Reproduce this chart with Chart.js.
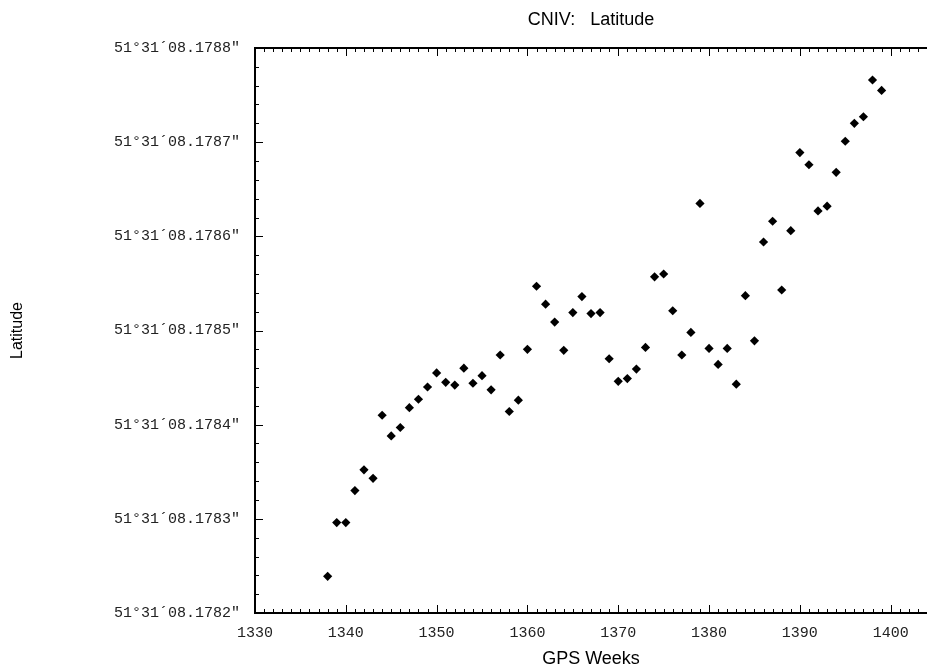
<!DOCTYPE html>
<html>
<head>
<meta charset="utf-8">
<script src="https://cdn.jsdelivr.net/npm/chart.js@4/dist/chart.umd.min.js"></script>
<style>
html,body{margin:0;padding:0;background:#fff;}
#wrap{width:927px;height:668px;}
</style>
</head>
<body>
<div id="wrap"><canvas id="c" width="927" height="668"></canvas></div>
<script>
// GPS week numbers
const weeks = [1338,1339,1340,1341,1342,1343,1344,1345,1346,1347,1348,1349,1350,1351,1352,1353,1354,1355,1356,1357,1358,1359,1360,1361,1362,1363,1364,1365,1366,1367,1368,1369,1370,1371,1372,1373,1374,1375,1376,1377,1378,1379,1380,1381,1382,1383,1384,1385,1386,1387,1388,1389,1390,1391,1392,1393,1394,1395,1396,1397,1398,1399];
// Latitude seconds part (51°31' + seconds)
const latSeconds = [8.178239,8.178296,8.178296,8.178330,8.178352,8.178343,8.178410,8.178388,8.178397,8.178418,8.178427,8.178440,8.178455,8.178445,8.178442,8.178460,8.178444,8.178452,8.178437,8.178474,8.178414,8.178426,8.178480,8.178547,8.178528,8.178509,8.178479,8.178519,8.178536,8.178518,8.178519,8.178470,8.178446,8.178449,8.178459,8.178482,8.178557,8.178560,8.178521,8.178474,8.178498,8.178635,8.178481,8.178464,8.178481,8.178443,8.178537,8.178489,8.178594,8.178616,8.178543,8.178606,8.178689,8.178676,8.178627,8.178632,8.178668,8.178701,8.178720,8.178727,8.178766,8.178755];
const xRange = [1330, 1404];
const yRange = [8.1782, 8.1788];
const titleText = 'CNIV:   Latitude';
const xTitle = 'GPS Weeks';
const yTitle = 'Latitude';

const points = weeks.map((w, i) => ({x: w, y: latSeconds[i]}));

function isMajorY(v) {
  const s = v * 10000;
  return Math.abs(s - Math.round(s)) < 1e-6;
}
function fmtLat(v) {
  const s = v.toFixed(4);
  return '51\u00B031\u00B4' + (v < 10 ? '0' : '') + s + '\u2033';
}

const tickPlugin = {
  id: 'inwardTicks',
  afterDraw(chart) {
    const ctx = chart.ctx;
    const a = chart.chartArea;
    const xs = chart.scales.x, ys = chart.scales.y;
    ctx.save();
    ctx.strokeStyle = '#000';
    ctx.lineWidth = 1;
    ctx.beginPath();
    xs.ticks.forEach(t => {
      const px = Math.round(xs.getPixelForValue(t.value)) + 0.5;
      const len = (t.value % 10 === 0) ? 8 : 4;
      ctx.moveTo(px, a.bottom); ctx.lineTo(px, a.bottom - len);
      ctx.moveTo(px, a.top); ctx.lineTo(px, a.top + len);
    });
    ys.ticks.forEach(t => {
      const py = Math.round(ys.getPixelForValue(t.value)) + 0.5;
      const len = isMajorY(t.value) ? 8 : 4;
      ctx.moveTo(a.left, py); ctx.lineTo(a.left + len, py);
    });
    ctx.stroke();
    ctx.lineWidth = 2;
    ctx.beginPath();
    ctx.moveTo(a.left - 1, a.top);
    ctx.lineTo(a.right, a.top);
    ctx.stroke();
    ctx.restore();
  }
};

new Chart(document.getElementById('c'), {
  type: 'scatter',
  data: {
    datasets: [{
      data: points,
      pointStyle: 'rectRot',
      pointRadius: 4.6,
      pointHoverRadius: 4.6,
      backgroundColor: '#000',
      borderColor: '#000',
      borderWidth: 0
    }]
  },
  options: {
    responsive: false,
    devicePixelRatio: 1,
    animation: false,
    events: [],
    layout: {padding: 0, autoPadding: false},
    plugins: {
      legend: {display: false},
      tooltip: {enabled: false},
      title: {
        display: true,
        text: titleText,
        fullSize: false,
        color: '#000',
        font: {family: 'Liberation Sans', size: 18, weight: 'normal', lineHeight: 1},
        padding: {top: 11, bottom: 19}
      }
    },
    scales: {
      x: {
        type: 'linear',
        position: 'bottom',
        min: xRange[0],
        max: xRange[1],
        afterFit(s) { s.height = 55; s.paddingRight = 0; },
        grid: {display: false, drawTicks: false},
        border: {display: true, color: '#000', width: 2},
        ticks: {
          stepSize: 1,
          autoSkip: false,
          maxRotation: 0,
          padding: 11,
          color: '#222',
          font: {family: 'Liberation Mono', size: 15},
          callback: v => (v % 10 === 0 ? String(v) : '')
        },
        title: {
          display: true,
          text: xTitle,
          color: '#000',
          font: {family: 'Liberation Sans', size: 18, lineHeight: 1},
          padding: {top: 0, bottom: 0}
        }
      },
      y: {
        type: 'linear',
        position: 'left',
        min: yRange[0],
        max: yRange[1],
        afterFit(s) { s.width = 255; },
        grid: {display: false, drawTicks: false},
        border: {display: true, color: '#000', width: 2},
        ticks: {
          stepSize: 0.00002,
          autoSkip: false,
          padding: 15,
          color: '#222',
          font: {family: 'Liberation Mono', size: 15},
          callback: v => (isMajorY(v) ? fmtLat(v) : '')
        },
        title: {
          display: true,
          text: yTitle,
          color: '#000',
          font: {family: 'Liberation Sans', size: 16, lineHeight: 1},
          padding: {top: 10, bottom: 0}
        }
      }
    }
  },
  plugins: [tickPlugin]
});
</script>
</body>
</html>
